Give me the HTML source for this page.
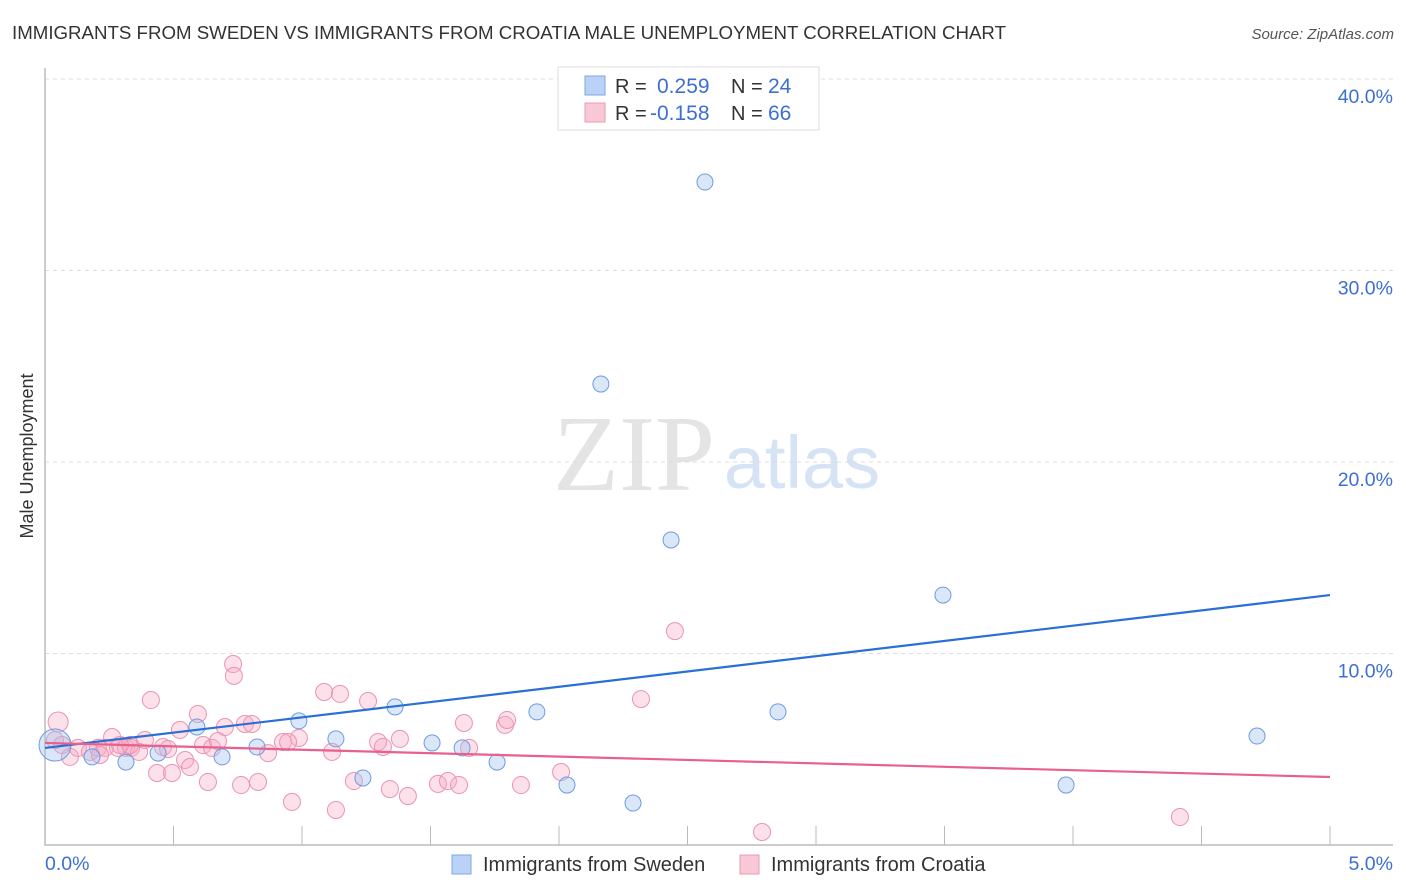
<!DOCTYPE html>
<html><head><meta charset="utf-8"><style>
body{margin:0;background:#fff;font-family:"Liberation Sans",sans-serif}
</style></head><body>
<svg id="c" width="1406" height="892" xmlns="http://www.w3.org/2000/svg" style="display:block">
<text x="12" y="39" font-size="18" fill="#333" textLength="994" lengthAdjust="spacingAndGlyphs">IMMIGRANTS FROM SWEDEN VS IMMIGRANTS FROM CROATIA MALE UNEMPLOYMENT CORRELATION CHART</text>
<text x="1394" y="39" font-size="15" fill="#555" text-anchor="end" font-style="italic">Source: ZipAtlas.com</text>
<g>
<text x="634" y="490" font-family="Liberation Serif,serif" font-size="108" fill="#e4e4e4" text-anchor="middle">ZIP</text>
<text x="802" y="488" font-size="74" fill="#d6e3f5" text-anchor="middle">atlas</text>
</g>
<g id="grid"></g>
<g id="marks"></g>
<text transform="translate(33,456) rotate(-90)" font-size="18" fill="#333" text-anchor="middle">Male Unemployment</text>
<text x="45" y="870" font-size="19.5" fill="#3d6fd1">0.0%</text>
<text x="1393" y="870" font-size="19.5" fill="#3d6fd1" text-anchor="end">5.0%</text>
<g>
<rect x="558" y="67" width="261" height="63" fill="#fff" stroke="#ddd"/>
<rect x="585" y="76" width="20" height="19" fill="#b9d2f5" stroke="#7ea6e6"/>
<rect x="585" y="103" width="20" height="19" fill="#f9c8d6" stroke="#ec98b2"/>
<text x="615" y="93" font-size="20" fill="#333">R = </text>
<text x="657" y="93" font-size="21" fill="#3d6fd1">0.259</text>
<text x="731" y="93" font-size="20" fill="#333">N = </text>
<text x="768" y="93" font-size="21" fill="#3d6fd1">24</text>
<text x="615" y="120" font-size="20" fill="#333">R = </text>
<text x="650" y="120" font-size="21" fill="#3d6fd1">-0.158</text>
<text x="731" y="120" font-size="20" fill="#333">N = </text>
<text x="768" y="120" font-size="21" fill="#3d6fd1">66</text>
</g>
<g>
<rect x="452" y="855" width="19" height="19" fill="#b9d2f5" stroke="#7ea6e6"/>
<text x="483" y="871" font-size="20" fill="#333">Immigrants from Sweden</text>
<rect x="740" y="855" width="19" height="19" fill="#f9c8d6" stroke="#ec98b2"/>
<text x="771" y="871" font-size="20" fill="#333">Immigrants from Croatia</text>
</g>
</svg>
<script>
const yTicks=[10,20,30,40];
const yTickLabels=["10.0%","20.0%","30.0%","40.0%"];
const xTicks=[0,0.5,1,1.5,2,2.5,3,3.5,4,4.5,5];
const swedenX=[0.039,0.183,0.315,0.44,0.591,0.689,0.825,0.988,1.132,1.237,1.362,1.506,1.623,1.759,1.914,2.031,2.163,2.288,2.436,2.568,2.852,3.494,3.973,4.716];
const swedenY=[5.22,4.60,4.33,4.80,6.16,4.60,5.12,6.48,5.54,3.50,7.21,5.33,5.07,4.33,6.95,3.13,24.07,2.19,15.93,34.62,6.95,13.05,3.13,5.69];
const croatiaX=[0.051,0.039,0.097,0.128,0.175,0.206,0.233,0.261,0.284,0.315,0.335,0.366,0.389,0.412,0.436,0.459,0.479,0.494,0.525,0.545,0.564,0.595,0.615,0.634,0.650,0.673,0.700,0.732,0.735,0.763,0.778,0.805,0.829,0.868,0.926,0.961,0.988,1.086,1.117,1.132,1.148,1.202,1.257,1.296,1.315,1.342,1.381,1.412,1.529,1.568,1.611,1.630,1.650,1.790,1.798,1.852,2.008,2.319,2.451,2.790,4.416,0.946,0.331,0.066,0.292,0.214];
const croatiaY=[6.42,5.48,4.60,5.07,4.86,5.07,5.07,5.64,5.07,5.07,5.07,4.86,5.48,7.57,3.76,5.12,5.01,3.76,6.01,4.44,4.07,6.84,5.22,3.29,5.07,5.43,6.16,9.45,8.83,3.13,6.32,6.32,3.29,4.80,5.38,2.25,5.59,7.99,4.86,1.83,7.89,3.34,7.52,5.38,5.12,2.92,5.54,2.56,3.19,3.34,3.13,6.37,5.07,6.27,6.53,3.13,3.81,7.62,11.17,0.68,1.46,5.38,5.22,5.22,5.22,4.70];
const swedenTrend=[5.07,13.05];
const croatiaTrend=[5.33,3.55];
const X0=45,X1=1330,Y0=845,PXY=19.15;
const sx=v=>X0+(X1-X0)*v/5;
const sy=v=>Y0-v*PXY;
const NS="http://www.w3.org/2000/svg";
const grid=document.getElementById('grid'),marks=document.getElementById('marks');
function mk(tag,attrs,parent){const e=document.createElementNS(NS,tag);for(const k in attrs)e.setAttribute(k,attrs[k]);parent.appendChild(e);return e;}
yTicks.forEach((t,i)=>{
  const l=mk('line',{x1:45,x2:1393,y1:sy(t),y2:sy(t),stroke:'#ddd','stroke-dasharray':'4,4'},grid);
  
  
  const tx=mk('text',{x:1393,y:sy(t)+24,'font-size':19.5,fill:'#3d6fd1','text-anchor':'end'},grid);
  tx.textContent=yTickLabels[i];
  
  
});
xTicks.forEach(t=>{
  if(t===0)return;
  const l=mk('line',{x1:sx(t),x2:sx(t),y1:826,y2:845,stroke:'#bbb'},grid);
  
  
});
const ax=mk('path',{d:'M45,68V845H1393',fill:'none',stroke:'#bbb','stroke-width':1.5},grid);


croatiaX.forEach((x,i)=>{
  const c=mk('circle',{cx:sx(x),cy:sy(croatiaY[i]),r:i===0?10:8.5,fill:'rgba(246,170,195,0.35)',stroke:'#ec92b0','stroke-width':1},marks);
  
  
});
swedenX.forEach((x,i)=>{
  const c=mk('circle',{cx:sx(x),cy:sy(swedenY[i]),r:i===0?16:8,fill:'rgba(160,195,240,0.4)',stroke:'#6f9ae0','stroke-width':1},marks);
  
  
});
const tb=mk('line',{x1:sx(0),x2:sx(5),y1:sy(swedenTrend[0]),y2:sy(swedenTrend[1]),stroke:'#2a6fd6','stroke-width':2.2},marks);


const tp=mk('line',{x1:sx(0),x2:sx(5),y1:sy(croatiaTrend[0]),y2:sy(croatiaTrend[1]),stroke:'#e8608c','stroke-width':2.2},marks);


</script>
</body></html>
